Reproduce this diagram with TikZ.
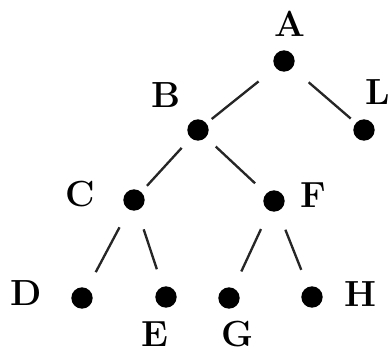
\documentclass[tikz,border=0pt]{standalone}
\usepackage{tikz}
\usetikzlibrary{positioning}

\begin{document}
\begin{tikzpicture}[x=0.03cm, y=-0.03cm,
  dot/.style={circle, fill=black, inner sep=0pt, minimum size=0.64cm},
  lbl/.style={font=\fontsize{31}{35}\selectfont\bfseries, inner sep=0pt},
  edge/.style={black!85, line width=2pt, shorten <=0.6cm, shorten >=0.55cm}]
\useasboundingbox (0,0) rectangle (392,352);
% the dots
\node[dot] (a) at (284,61) {};
\node[dot] (b) at (198,130) {};
\node[dot] (l) at (364,130) {};
\node[dot] (c) at (134,200) {};
\node[dot] (f) at (274,201) {};
\node[dot] (d) at (82,298) {};
\node[dot] (e) at (166,297) {};
\node[dot] (g) at (229,298) {};
\node[dot] (h) at (312,297) {};
% the letters
\node[lbl] (la) at (290,24) {A};
\node[lbl] (lb) at (166,95) {B};
\node[lbl] (ll) at (378,92) {L};
\node[lbl] (lc) at (80,194) {C};
\node[lbl] (lf) at (313,195) {F};
\node[lbl] (ld) at (26,293) {D};
\node[lbl] (le) at (155,334) {E};
\node[lbl] (lg) at (238,334) {G};
\node[lbl] (lh) at (360,294) {H};
% the branches
\draw[edge, shorten <=0.65cm, shorten >=0.2cm] (a) -- (b);
\draw[edge, shorten <=0.65cm, shorten >=0.2cm] (a) -- (l);
\draw[edge, shorten <=0.4cm, shorten >=0.25cm] (b) -- (c);
\draw[edge, shorten <=0.4cm, shorten >=0.45cm] (b) -- (f);
\draw[edge] (c) -- (d);
\draw[edge] (c) -- (e);
\draw[edge] (f) -- (g);
\draw[edge] (f) -- (h);
\end{tikzpicture}
\end{document}
